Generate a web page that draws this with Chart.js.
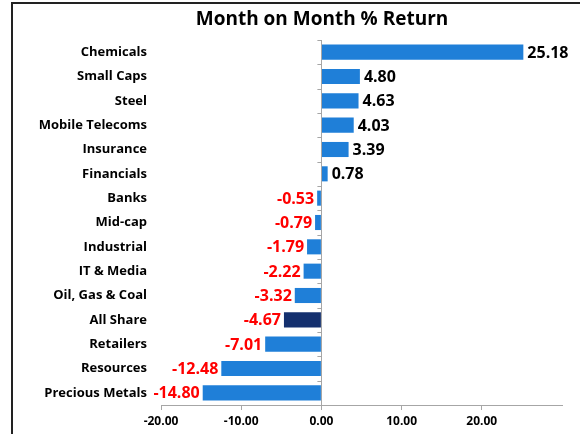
<!DOCTYPE html>
<html>
<head>
<meta charset="utf-8">
<script src="https://cdn.jsdelivr.net/npm/chart.js@4.4.1/dist/chart.umd.min.js"></script>
<style>
  html, body { margin: 0; padding: 0; background: #fff; }
  #wrap { position: relative; width: 580px; height: 434px; overflow: hidden; }
  #frame { position: absolute; left: 11px; top: 2px; width: 600px; height: 460px; border: 2px solid #222; box-sizing: border-box; pointer-events: none; }
  canvas { position: absolute; left: 0; top: 0; }
</style>
</head>
<body>
<div id="wrap">
  <canvas id="chart" width="580" height="434"></canvas>
  <div id="frame"></div>
</div>
<script>
// sectors, top to bottom as in the picture
const sectors = [
    'Chemicals', 'Small Caps', 'Steel', 'Mobile Telecoms', 'Insurance', 'Financials',
    'Banks', 'Mid-cap', 'Industrial', 'IT & Media', 'Oil, Gas & Coal', 'All Share',
    'Retailers', 'Resources', 'Precious Metals'
];
const momReturn = [
    25.18, 4.80, 4.63, 4.03, 3.39, 0.78,
    -0.53, -0.79, -1.79, -2.22, -3.32, -4.67,
    -7.01, -12.48, -14.80
];
const highlight = 'All Share';
const xTicks = [-20, -10, 0, 10, 20];
const chartTitle = 'Month on Month % Return';

const FONT = "'Open Sans', 'Liberation Sans', sans-serif";

const barFill = (context) => {
    const chart = context.chart;
    const { ctx, chartArea } = chart;
    const isHi = sectors[context.dataIndex] === highlight;
    const el = context.element;
    if (!chartArea || !el || el.y === undefined) return isHi ? '#14306e' : '#1f7fd8';
    const top = el.y - el.height / 2;
    const bot = el.y + el.height / 2;
    const g = ctx.createLinearGradient(0, top, 0, bot);
    if (isHi) {
        g.addColorStop(0, '#2a4a8c');
        g.addColorStop(0.25, '#15306e');
        g.addColorStop(1, '#0f2456');
    } else {
        g.addColorStop(0, '#6db8f2');
        g.addColorStop(0.2, '#2a8ae0');
        g.addColorStop(0.8, '#1a76d0');
        g.addColorStop(1, '#1262b0');
    }
    return g;
};

// title, zero line with small ticks between categories, value labels
const extras = {
    id: 'extras',
    afterDatasetsDraw(chart) {
        const { ctx, chartArea, scales } = chart;
        const x0 = scales.x.getPixelForValue(0);
        ctx.save();
        ctx.strokeStyle = '#a6a6a6';
        ctx.lineWidth = 1;
        ctx.beginPath();
        ctx.moveTo(Math.round(x0) + 0.5, chartArea.top);
        ctx.lineTo(Math.round(x0) + 0.5, chartArea.bottom);
        const step = (chartArea.bottom - chartArea.top) / sectors.length;
        for (let i = 0; i <= sectors.length; i++) {
            const y = Math.round(chartArea.top + i * step) + 0.5;
            ctx.moveTo(x0 - 4, y);
            ctx.lineTo(x0, y);
        }
        ctx.stroke();

        const meta = chart.getDatasetMeta(0);
        ctx.font = "bold 16px " + FONT;
        ctx.textBaseline = 'middle';
        meta.data.forEach((bar, i) => {
            const v = momReturn[i];
            const txt = v.toFixed(2);
            if (v >= 0) {
                ctx.fillStyle = '#000';
                ctx.textAlign = 'left';
                ctx.fillText(txt, bar.x + 4, bar.y + 1);
            } else {
                ctx.fillStyle = '#ff0000';
                ctx.textAlign = 'right';
                ctx.fillText(txt, bar.x - 3, bar.y + 1);
            }
        });

        ctx.fillStyle = '#000';
        ctx.font = "bold 19px " + FONT;
        ctx.textAlign = 'center';
        ctx.fillText(chartTitle, 322, 20);
        ctx.restore();
    }
};

new Chart(document.getElementById('chart'), {
    type: 'bar',
    data: {
        labels: sectors,
        datasets: [{
            data: momReturn,
            backgroundColor: barFill,
            borderWidth: 0,
            categoryPercentage: 1,
            barPercentage: 0.62
        }]
    },
    options: {
        indexAxis: 'y',
        responsive: false,
        animation: false,
        layout: { padding: { left: 0, right: 18, top: 40, bottom: 0 } },
        plugins: {
            legend: { display: false },
            tooltip: { enabled: false },
            title: { display: false }
        },
        scales: {
            x: {
                min: -20,
                max: 30,
                afterBuildTicks: (scale) => { scale.ticks = xTicks.map(v => ({ value: v })); },
                afterFit: (scale) => { scale.height = 29; },
                border: { display: true, color: '#a6a6a6', width: 1 },
                grid: { drawOnChartArea: false, drawTicks: true, tickLength: 5, color: '#a6a6a6' },
                ticks: {
                    color: '#000',
                    padding: 4,
                    maxRotation: 0,
                    font: { family: FONT, size: 12, weight: 'bold' },
                    callback: (v) => Number(v).toFixed(2)
                }
            },
            y: {
                afterFit: (scale) => { scale.width = 161; },
                border: { display: false },
                grid: { display: false },
                ticks: {
                    color: '#000',
                    padding: 6,
                    font: { family: FONT, size: 13, weight: 'bold' }
                }
            }
        }
    },
    plugins: [extras]
});
</script>
</body>
</html>
